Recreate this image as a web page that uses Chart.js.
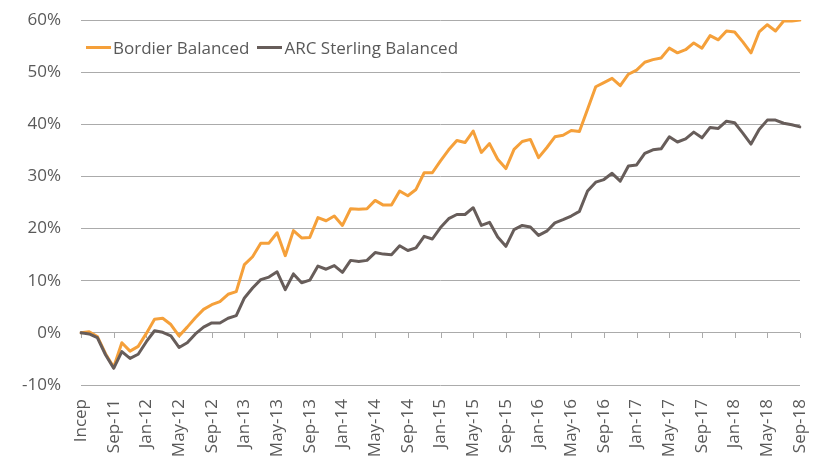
<!DOCTYPE html>
<html>
<head>
<meta charset="utf-8">
<script src="https://cdn.jsdelivr.net/npm/chart.js@4/dist/chart.umd.min.js"></script>
<style>
  html, body { margin: 0; padding: 0; background: #fff; }
  #wrap { position: relative; width: 821px; height: 461px; }
  #legend {
    position: absolute; left: 86px; top: 36px;
    font: 17px "Open Sans", sans-serif; color: #595959;
    display: flex; align-items: center; white-space: nowrap;
  }
  #legend .item { display: flex; align-items: center; margin-right: 8px; }
  #legend .swatch { width: 25px; height: 3px; margin-right: 2px; }
</style>
</head>
<body>
<div id="wrap">
  <canvas id="chart" width="821" height="461"></canvas>
  <div id="legend"></div>
</div>
<script>
// tick labels shown every 4 months, starting at inception (May-11)
const tickLabels = ['Incep', 'Sep-11', 'Jan-12', 'May-12', 'Sep-12', 'Jan-13', 'May-13', 'Sep-13',
    'Jan-14', 'May-14', 'Sep-14', 'Jan-15', 'May-15', 'Sep-15', 'Jan-16', 'May-16', 'Sep-16',
    'Jan-17', 'May-17', 'Sep-17', 'Jan-18', 'May-18', 'Sep-18'];

// cumulative return, % (monthly)
const bordier = [0, 0.2, -0.7, -4.0, -6.6, -1.9, -3.5, -2.6, -0.1, 2.6,
    2.8, 1.6, -0.6, 1.1, 2.9, 4.5, 5.4, 6.0, 7.4, 7.9,
    13.1, 14.6, 17.2, 17.2, 19.2, 14.8, 19.6, 18.2, 18.3, 22.1,
    21.5, 22.4, 20.6, 23.8, 23.7, 23.8, 25.4, 24.5, 24.5, 27.2,
    26.3, 27.5, 30.7, 30.7, 33.0, 35.1, 36.9, 36.5, 38.7, 34.6,
    36.3, 33.3, 31.5, 35.2, 36.7, 37.1, 33.6, 35.5, 37.6, 37.9,
    38.8, 38.6, 42.9, 47.2, 48.0, 48.8, 47.4, 49.6, 50.4, 51.9,
    52.4, 52.7, 54.6, 53.7, 54.3, 55.6, 54.6, 57.0, 56.2, 57.9,
    57.7, 55.8, 53.7, 57.7, 59.1, 57.9, 59.8, 59.8, 60.0];

const arcSterling = [0, -0.2, -0.9, -4.2, -6.8, -3.6, -4.9, -4.1, -1.7, 0.4,
    0.1, -0.6, -2.8, -1.9, -0.2, 1.1, 1.9, 1.9, 2.8, 3.3,
    6.7, 8.6, 10.2, 10.7, 11.7, 8.3, 11.3, 9.6, 10.1, 12.8,
    12.2, 12.9, 11.6, 13.9, 13.7, 13.9, 15.4, 15.1, 15.0, 16.7,
    15.8, 16.3, 18.5, 18.0, 20.2, 21.9, 22.7, 22.7, 24.0, 20.6,
    21.2, 18.4, 16.6, 19.8, 20.6, 20.3, 18.7, 19.5, 21.1, 21.7,
    22.4, 23.3, 27.2, 28.9, 29.4, 30.6, 29.1, 32.0, 32.2, 34.4,
    35.1, 35.3, 37.6, 36.6, 37.2, 38.5, 37.4, 39.4, 39.2, 40.6,
    40.3, 38.3, 36.2, 39.0, 40.8, 40.8, 40.2, 39.9, 39.5];

const seriesNames = ['Bordier Balanced', 'ARC Sterling Balanced'];
const seriesColors = ['#F5A03A', '#675D5A'];
const textColor = '#595959';
const gridColor = '#ABABAB';
const fontFamily = '"Open Sans", sans-serif';

// one category per month, label only every 4th
const categories = bordier.map((_, i) => (i % 4 === 0 ? tickLabels[i / 4] : ''));

// small tick marks hanging off the 0% line
const zeroTicks = {
    id: 'zeroTicks',
    beforeDatasetsDraw(chart) {
        const { ctx, scales: { x, y } } = chart;
        const y0 = Math.round(y.getPixelForValue(0));
        ctx.save();
        ctx.strokeStyle = gridColor;
        ctx.lineWidth = 1;
        tickLabels.forEach((_, k) => {
            const px = Math.round(x.getPixelForValue(k * 4)) + 0.5;
            ctx.beginPath();
            ctx.moveTo(px, y0);
            ctx.lineTo(px, y0 + 5);
            ctx.stroke();
        });
        ctx.restore();
    }
};

new Chart(document.getElementById('chart'), {
    type: 'line',
    data: {
        labels: categories,
        datasets: [
            { label: seriesNames[0], data: bordier, borderColor: seriesColors[0], order: 1 },
            { label: seriesNames[1], data: arcSterling, borderColor: seriesColors[1], order: 0 }
        ]
    },
    options: {
        responsive: false,
        animation: false,
        layout: { padding: { left: 0, right: 21, top: 20, bottom: 0 } },
        elements: {
            line: { borderWidth: 3, tension: 0, borderJoinStyle: 'round', borderCapStyle: 'round' },
            point: { radius: 0 }
        },
        plugins: { legend: { display: false }, tooltip: { enabled: false } },
        scales: {
            x: {
                offset: false,
                grid: { display: false, drawTicks: false },
                border: { display: false },
                ticks: {
                    autoSkip: false, maxRotation: 90, minRotation: 90, padding: 14,
                    color: textColor, font: { family: fontFamily, size: 17 }
                },
                afterFit(scale) {
                    scale.height = 76;
                    scale.paddingLeft = 0;
                    scale.paddingRight = 0;
                }
            },
            y: {
                min: -10, max: 60,
                grid: { color: gridColor, drawTicks: false },
                border: { display: false },
                ticks: {
                    stepSize: 10, padding: 20, color: textColor,
                    font: { family: fontFamily, size: 17 },
                    callback: (v) => v + '%'
                },
                afterFit(scale) {
                    scale.width = 81;
                    scale.paddingTop = 0;
                    scale.paddingBottom = 0;
                }
            }
        }
    },
    plugins: [zeroTicks]
});

// legend inside the plot, top left
const legend = document.getElementById('legend');
seriesNames.forEach((name, i) => {
    const item = document.createElement('div');
    item.className = 'item';
    const sw = document.createElement('span');
    sw.className = 'swatch';
    sw.style.background = seriesColors[i];
    item.appendChild(sw);
    item.appendChild(document.createTextNode(name));
    legend.appendChild(item);
});
</script>
</body>
</html>
